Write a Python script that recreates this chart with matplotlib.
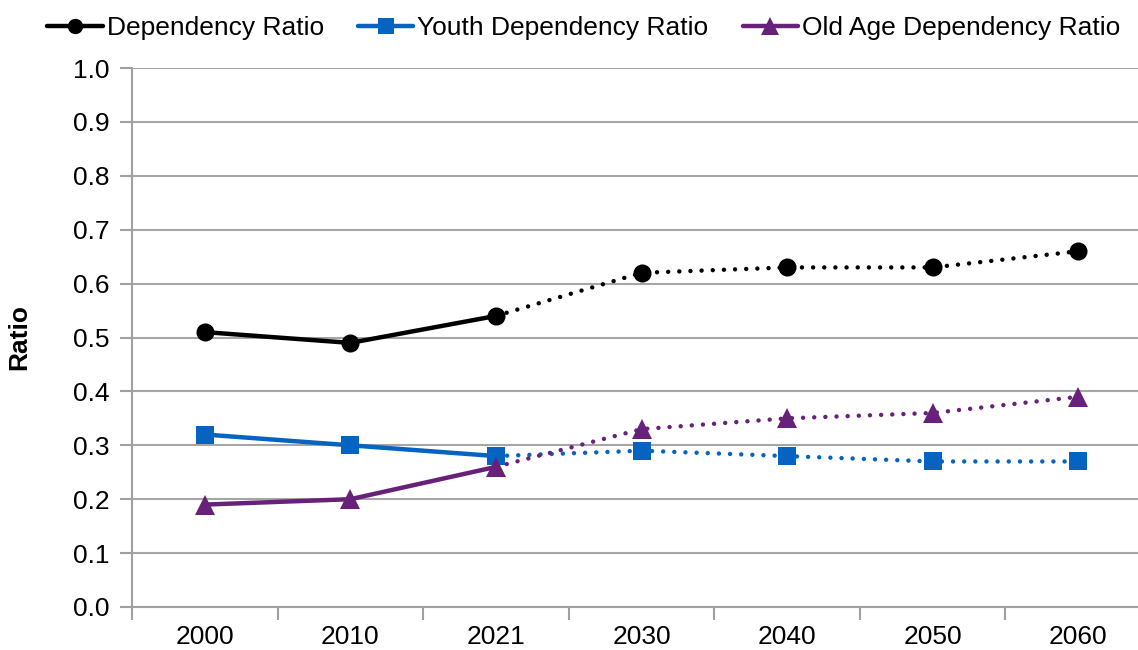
import matplotlib
matplotlib.use("Agg")
import matplotlib.pyplot as plt
from matplotlib.lines import Line2D

plt.rcParams['font.family'] = ['Liberation Sans', 'DejaVu Sans']

years = ["2000", "2010", "2021", "2030", "2040", "2050", "2060"]
dependency = [0.51, 0.49, 0.54, 0.62, 0.63, 0.63, 0.66]
youth = [0.32, 0.30, 0.28, 0.29, 0.28, 0.27, 0.27]
old_age = [0.19, 0.20, 0.26, 0.33, 0.35, 0.36, 0.39]
series_names = ["Dependency Ratio", "Youth Dependency Ratio", "Old Age Dependency Ratio"]
y_ticks = [0.0, 0.1, 0.2, 0.3, 0.4, 0.5, 0.6, 0.7, 0.8, 0.9, 1.0]
split_index = 2  # last observed year (2021); later values are projections

colors = ["#000000", "#0563C1", "#68217A"]
markers = ["o", "s", "^"]
msizes = [13, 13, 14.5]
fs = 19

fig = plt.figure(figsize=(11.38, 6.5), dpi=100)
ax = fig.add_axes([132 / 1138, 1 - 607 / 650, (1151 - 132) / 1138, (607 - 68) / 650])

x = list(range(len(years)))
lw = 3.2
handles = []
for vals, c, m, ms, name in zip([dependency, youth, old_age], colors, markers, msizes, series_names):
    ax.plot(x[:split_index + 1], vals[:split_index + 1], color=c, lw=lw,
            solid_capstyle='round', zorder=3)
    ax.plot(x[split_index:], vals[split_index:], color=c, lw=lw,
            linestyle=(0, (0.01, 2.5)), dash_capstyle='round', zorder=3)
    ax.plot(x, vals, linestyle='none', marker=m, markersize=ms, color=c,
            markeredgewidth=0, zorder=4)
    handles.append(Line2D([], [], color=c, lw=lw, marker=m, markersize=ms * 0.85,
                          markeredgewidth=0, label=name, solid_capstyle='round'))

ax.set_xlim(-0.5, len(years) - 0.5)
ax.set_ylim(0, 1.0)
ax.set_yticks(y_ticks)
ax.set_yticklabels([f"{v:.1f}" for v in y_ticks], fontsize=fs)
ax.set_xticks(x)
ax.set_xticklabels(years, fontsize=fs)
ax.set_xticks([i - 0.5 for i in range(len(years) + 1)], minor=True)
ax.tick_params(axis='x', which='major', length=0, pad=13)
ax.tick_params(axis='x', which='minor', length=9, width=1.5, color='#a0a0a0')
ax.tick_params(axis='y', length=9, width=1.5, color='#a0a0a0', pad=7)

ax.grid(axis='y', color='#a6a6a6', lw=1.5, zorder=0)
for s in ['top', 'right']:
    ax.spines[s].set_visible(False)
for s in ['left', 'bottom']:
    ax.spines[s].set_color('#a0a0a0')
    ax.spines[s].set_linewidth(1.5)

ax.set_ylabel("Ratio", fontsize=fs, fontweight='bold', labelpad=30)

fig.legend(handles=handles, loc='upper center', bbox_to_anchor=(0.513, 1.012), ncol=3,
           frameon=False, fontsize=fs, handlelength=2.1, handletextpad=0.15,
           columnspacing=1.3)

fig.savefig("out.png", dpi=100)
